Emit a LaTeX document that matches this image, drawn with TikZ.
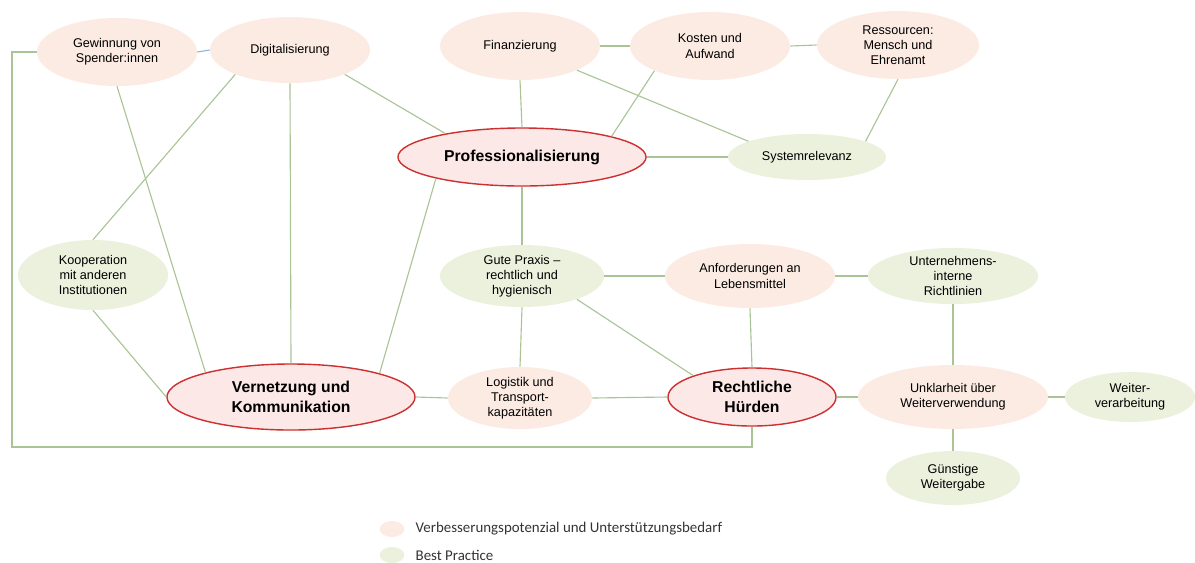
\documentclass[tikz,border=0pt]{standalone}
\usepackage{fontspec}
\setmainfont{Liberation Sans}
\newfontfamily\legendfont{Carlito}
\usetikzlibrary{positioning, shapes.geometric}
\definecolor{pinkfill}{RGB}{252,235,227}
\definecolor{greenfill}{RGB}{235,241,221}
\definecolor{hubfill}{RGB}{252,232,230}
\definecolor{hubred}{RGB}{204,48,48}
\definecolor{linkgreen}{RGB}{169,196,150}
\definecolor{linkblue}{RGB}{141,180,226}
\tikzset{
  topic/.style={ellipse, inner sep=0pt, align=center, font=\fontsize{9}{10.8}\selectfont},
  need/.style={topic, fill=pinkfill},
  good/.style={topic, fill=greenfill},
  hub/.style={ellipse, inner sep=0pt, align=center, draw=hubred, line width=1pt, fill=hubfill,
    font=\fontsize{11.2}{14}\selectfont\bfseries},
  link/.style={draw=linkgreen, line width=0.8pt},
  legtext/.style={font=\legendfont\fontsize{10.6}{12}\selectfont, text=black!80},
}

\begin{document}
\begin{tikzpicture}[x=0.025cm, y=-0.025cm]
    \useasboundingbox (0,0) rectangle (1195,562);
    % top row
    \node[need, minimum width=4cm, minimum height=1.7cm] (spender) at (117,52) {Gewinnung von\\Spender:innen};
    \node[need, minimum width=4cm, minimum height=1.65cm] (digital) at (290,50) {Digitalisierung};
    \node[need, minimum width=4cm, minimum height=1.7cm] (finanz) at (520,46) {Finanzierung};
    \node[need, minimum width=4cm, minimum height=1.7cm] (kosten) at (710,46) {Kosten und\\Aufwand};
    \node[need, minimum width=4.05cm, minimum height=1.7cm] (ressourcen) at (898,45) {Ressourcen:\\Mensch und\\Ehrenamt};
    % second row
    \node[hub, minimum width=6.2cm, minimum height=1.45cm] (prof) at (522,157) {Professionalisierung};
    \node[good, minimum width=3.95cm, minimum height=1.15cm] (system) at (807,157) {Systemrelevanz};
    % third row
    \node[good, minimum width=3.75cm, minimum height=1.75cm] (koop) at (93,275) {Kooperation\\mit anderen\\Institutionen};
    \node[good, minimum width=4.1cm, minimum height=1.55cm] (gute) at (522,276) {Gute Praxis --\\rechtlich und\\hygienisch};
    \node[need, minimum width=4.25cm, minimum height=1.6cm] (anford) at (750,276) {Anforderungen an\\Lebensmittel};
    \node[good, minimum width=4.25cm, minimum height=1.25cm] (untern) at (953,276) {Unternehmens-\\interne\\Richtlinien};
    % fourth row
    \node[hub, minimum width=6.2cm, minimum height=1.65cm] (vernetz) at (291,397) {Vernetzung und\\Kommunikation};
    \node[need, minimum width=3.6cm, minimum height=1.55cm] (logistik) at (520,398) {Logistik und\\Transport-\\kapazitäten};
    \node[hub, minimum width=4.2cm, minimum height=1.45cm] (recht) at (752,397) {Rechtliche\\Hürden};
    \node[need, minimum width=4.75cm, minimum height=1.6cm] (unklar) at (953,397) {Unklarheit über\\Weiterverwendung};
    \node[good, minimum width=3.25cm, minimum height=1.25cm] (weiterv) at (1130,397) {Weiter-\\verarbeitung};
    \node[good, minimum width=3.35cm, minimum height=1.35cm] (guenstig) at (953,478) {Günstige\\Weitergabe};
    % connections
    \draw[draw=linkblue, line width=0.8pt] (spender.east) -- (digital.west);
    \coordinate (corner) at (12,447);
    \draw[link] (spender.west) -| (corner) -| (recht.south);
    \draw[link] (spender.south) -- (vernetz.164);
    \draw[link] (digital.204) -- (koop.north);
    \draw[link] (digital.south) -- (vernetz.north);
    \draw[link] (digital.336) -- (prof.163);
    \draw[link] (finanz.south) -- (prof.north);
    \draw[link] (finanz.east) -- (kosten.west);
    \draw[link] (finanz.337) -- (system.165);
    \draw[link] (kosten.204) -- (prof.13);
    \draw[link] (kosten.east) -- (ressourcen.west);
    \draw[link] (ressourcen.south) -- (system.15);
    \draw[link] (prof.east) -- (system.west);
    \draw[link] (prof.194) -- (vernetz.15);
    \draw[link] (prof.south) -- (gute.north);
    \draw[link] (koop.south) -- (vernetz.west);
    \draw[link] (gute.east) -- (anford.west);
    \draw[link] (gute.south) -- (logistik.north);
    \draw[link] (gute.337) -- (recht.160);
    \draw[link] (anford.south) -- (recht.north);
    \draw[link] (anford.east) -- (untern.west);
    \draw[link] (untern.south) -- (unklar.north);
    \draw[link] (vernetz.east) -- (logistik.west);
    \draw[link] (logistik.east) -- (recht.west);
    \draw[link] (recht.east) -- (unklar.west);
    \draw[link] (unklar.east) -- (weiterv.west);
    \draw[link] (unklar.south) -- (guenstig.north);
    % legend
    \node[ellipse, fill=pinkfill, minimum width=0.62cm, minimum height=0.4cm, inner sep=0pt] (legneed) at (392,529) {};
    \node[legtext, right=0.15cm of legneed] (legneedtext) {Verbesserungspotenzial und Unterstützungsbedarf};
    \node[ellipse, fill=greenfill, minimum width=0.62cm, minimum height=0.4cm, inner sep=0pt] (leggood) at (392,555) {};
    \node[legtext, right=0.15cm of leggood] (leggoodtext) {Best Practice};
\end{tikzpicture}
\end{document}
